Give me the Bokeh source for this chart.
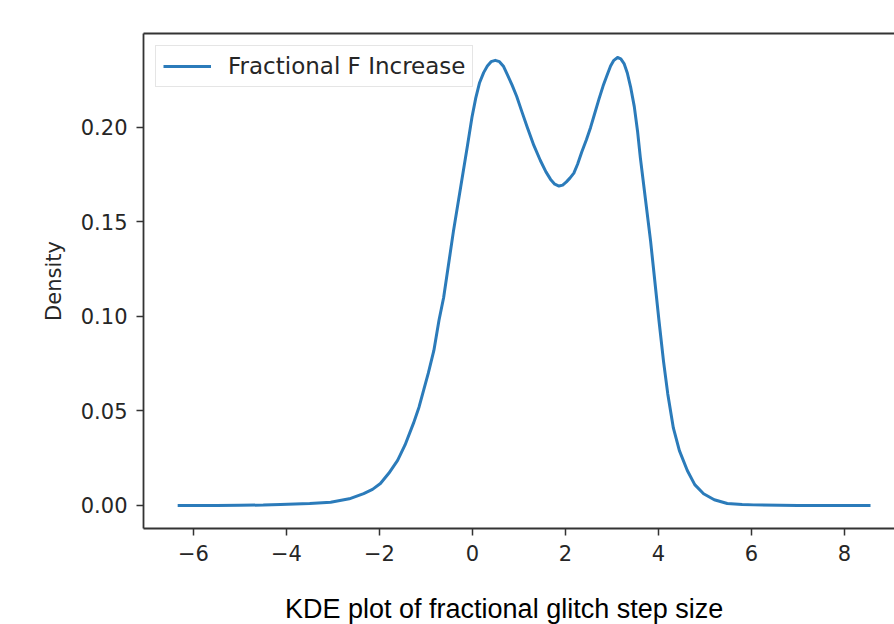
from bokeh.plotting import figure
from bokeh.models import (LinearAxis, FixedTicker, Div, Legend, LegendItem,
                          PrintfTickFormatter, Range1d)
from bokeh.layouts import column
from bokeh.embed import file_html
from bokeh.resources import INLINE

# KDE curve values
x_vals = [-6.34, -5.5, -5.0, -4.5, -4.13, -3.5, -3.05, -2.65, -2.34, -2.15,
          -1.98, -1.8, -1.61, -1.45, -1.27, -1.15, -1.05, -0.95, -0.83, -0.72,
          -0.62, -0.41, -0.25, -0.11, -0.01, 0.07, 0.15, 0.24, 0.32, 0.40,
          0.49, 0.58, 0.67, 0.75, 0.85, 0.95, 1.06, 1.18, 1.32, 1.46,
          1.58, 1.68, 1.77, 1.86, 1.94, 2.02, 2.10, 2.18, 2.26, 2.35,
          2.45, 2.54, 2.63, 2.72, 2.81, 2.90, 2.97, 3.04, 3.12, 3.19,
          3.26, 3.33, 3.40, 3.48, 3.55, 3.61, 3.72, 3.83, 3.92, 4.01,
          4.11, 4.20, 4.32, 4.45, 4.62, 4.78, 4.97, 5.2, 5.48, 5.8,
          6.05, 7.0, 8.56]
density = [0.0, 0.0, 0.0001, 0.0002, 0.0005, 0.001, 0.0017, 0.0035, 0.0063, 0.0085,
           0.0116, 0.017, 0.0238, 0.032, 0.0434, 0.052, 0.061, 0.070, 0.082, 0.098,
           0.110, 0.145, 0.169, 0.190, 0.2055, 0.2155, 0.2235, 0.229, 0.2325, 0.2348,
           0.2355, 0.2348, 0.2322, 0.228, 0.2225, 0.2165, 0.2085, 0.200, 0.1905, 0.1825,
           0.1765, 0.1725, 0.170, 0.169, 0.1695, 0.1712, 0.1733, 0.1758, 0.1805, 0.187,
           0.1935, 0.200, 0.2075, 0.215, 0.222, 0.228, 0.2325, 0.2355, 0.237, 0.2363,
           0.2338, 0.2288, 0.2215, 0.211, 0.198, 0.184, 0.162, 0.140, 0.119, 0.098,
           0.076, 0.059, 0.041, 0.029, 0.0185, 0.011, 0.0062, 0.003, 0.001, 0.0005,
           0.0003, 0.0, 0.0]
series_name = "Fractional F Increase"
x_ticks = [-6, -4, -2, 0, 2, 4, 6, 8]
y_ticks = [0.0, 0.05, 0.10, 0.15, 0.20]
title_text = "KDE plot of fractional glitch step size"
y_label = "Density"

FONT = "DejaVu Sans"
AX = "#333333"

p = figure(width=894, height=596, output_backend="svg", toolbar_location=None,
           x_range=Range1d(-7.075, 9.076), y_range=Range1d(-0.0122, 0.2497),
           min_border_left=143, min_border_right=0, min_border_top=33,
           min_border_bottom=68, x_axis_location="below", y_axis_location="left")
p.outline_line_color = None
p.grid.visible = False
p.background_fill_color = "white"
p.border_fill_color = "white"

r = p.line(x_vals, density, line_color="#2b7bba", line_width=3,
           line_join="round")

for ax in (p.xaxis[0], p.yaxis[0]):
    ax.axis_line_color = AX
    ax.axis_line_width = 1.8
    ax.major_tick_line_color = AX
    ax.major_tick_line_width = 1.5
    ax.major_tick_out = 7
    ax.major_tick_in = 0
    ax.minor_tick_line_color = None
    ax.major_label_text_font = FONT
    ax.major_label_text_font_size = "21px"
    ax.major_label_text_color = "#262626"
    ax.major_label_standoff = 9

p.xaxis[0].ticker = FixedTicker(ticks=x_ticks)
p.xaxis[0].major_label_overrides = {t: (str(t).replace("-", "\u2212")) for t in x_ticks}
p.yaxis[0].ticker = FixedTicker(ticks=y_ticks)
p.yaxis[0].formatter = PrintfTickFormatter(format="%.2f")
p.yaxis[0].axis_label = y_label
p.yaxis[0].axis_label_text_font = FONT
p.yaxis[0].axis_label_text_font_size = "21px"
p.yaxis[0].axis_label_text_font_style = "normal"
p.yaxis[0].axis_label_text_color = "#262626"
p.yaxis[0].axis_label_standoff = 12

top = LinearAxis(axis_line_color=AX, axis_line_width=1.8,
                 major_tick_line_color=None, minor_tick_line_color=None,
                 major_label_text_font_size="0px", major_label_standoff=0)
p.add_layout(top, "above")

legend = Legend(items=[LegendItem(label=series_name, renderers=[r])],
                location="top_left", label_text_font=FONT,
                label_text_font_size="23px", label_text_color="#262626",
                border_line_color="#cccccc", border_line_width=1.2,
                glyph_width=48, label_standoff=17, padding=7, margin=12,
                spacing=0, background_fill_alpha=0.8)
p.add_layout(legend)

caption = Div(
    text=('<div style="font-family: \'Liberation Sans\', Arial, sans-serif; '
          'font-size: 27px; line-height: 27px; color: black; white-space: nowrap; '
          'padding-left: 285px; margin: 0;">' + title_text + '</div>'),
    width=894, height=28, margin=0)

layout = column(p, caption, spacing=0)

open("out.html", "w").write(file_html(layout, INLINE))
